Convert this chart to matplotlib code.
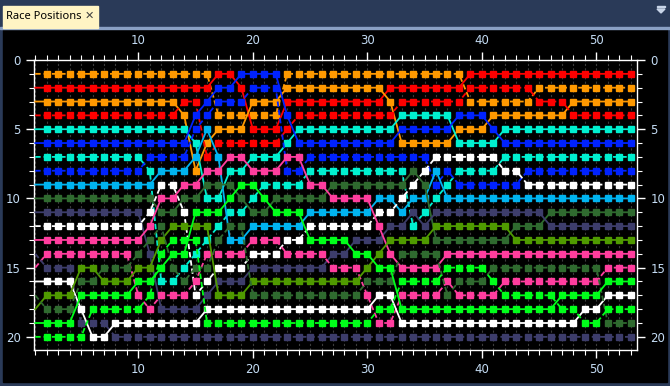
import matplotlib.pyplot as plt
from matplotlib.patches import Rectangle, Polygon
from matplotlib.ticker import MultipleLocator

# running order per lap (lap 1..53), one letter per driver, first letter = P1
laps = list(range(1, 54))
order = [
    "ABCDEFGHIJKLMONPRQST",  # 1
    "ABCDEFGHIJKLMNOPQRST",  # 2
    "ABCDEFGHIJKLMNOPQRST",  # 3
    "ABCDEFGHIJKLMNOPQRST",  # 4
    "ABCDEFGHIJKLMNQRSPOT",  # 5
    "ABCDEFGHIJKLMNQRSTOP",  # 6
    "ABCDEFGHIJKLMNRQSTOP",  # 7
    "ABCDEFGHIJKLMNRQSTPO",  # 8
    "ABCDEFGHIJKLMNRQSTPO",  # 9
    "ABCDEFGHIJKLMRQSNTPO",  # 10
    "ABCDEFHGIJLMRKQSTNPO",  # 11
    "ABCDEFHILMJRQTSGNKPO",  # 12
    "ABCDEFHILMJQTSRGNKPO",  # 13
    "ABDCEFHIMJLQTSGRNKPO",  # 14
    "ABDFHEICMJSQTGRNLKPO",  # 15
    "ABFHICDMJESQGNRLKPTO",  # 16
    "BFHACDIMJESGRNLKQPTO",  # 17
    "BFHACDMEJSGRINLKQPTO",  # 18
    "FBHACDMESJGRINLKQPTO",  # 19
    "FHCABDEMSGJINLKQRPTO",  # 20
    "FHCABDEMGSJINLKQRPTO",  # 21
    "FHCABDEMGJSINLKQRPTO",  # 22
    "ACBFDEMHGJSILNKQRPTO",  # 23
    "ACBDEFMHGJSILNKQRPTO",  # 24
    "ACBDEFHGMJILSNKQRPTO",  # 25
    "ACBDEFHGMJILSNKQRPTO",  # 26
    "ACBDEFHGJMILSKNQRPTO",  # 27
    "ACBDEFHGJMILSKNQRPTO",  # 28
    "ACBDEFHGJMILKSNQRPTO",  # 29
    "ACBDEFHGJMILKSQRNPTO",  # 30
    "ACBDEFHGJILMKQSRPTNO",  # 31
    "ABCDEFHGJILKQMSRPTNO",  # 32
    "ABDEFCHGJLIKQRMTNSPO",  # 33
    "ABDEFCHJLIKGQRMTNSPO",  # 34
    "ABDEFCHLJIGKQRMTNSPO",  # 35
    "ABDEFCLIHGKQJRMTNSPO",  # 36
    "ABDEFCLHGIKQJMTNRSPO",  # 37
    "ABDFCELGHIKQJMTRNSPO",  # 38
    "BDAFCELGHIKQJMTRNSPO",  # 39
    "BDAFCELGHIKQJMTRNSPO",  # 40
    "BDACFELGHIKQJMRTNSPO",  # 41
    "BDACEFGLHIKQJMRNTSPO",  # 42
    "BDACEFGLHIKJQMRNTSPO",  # 43
    "BDACEFGHLIKJQMRNTSPO",  # 44
    "BADCEFGHLIKJQMRNTSPO",  # 45
    "BADCEFGHLIJKQMRNTSPO",  # 46
    "BADCEFGHLIJKQMRNSTPO",  # 47
    "BACDEFGHLIJKQMRNSTPO",  # 48
    "BACDEFGHLIJKQMRNSPTO",  # 49
    "BACDEFGHLIJKQMRNSPTO",  # 50
    "BACDEFGHLIJKQMNSPTRO",  # 51
    "BACDEFGHLIJKQMNSPTRO",  # 52
    "BACDEFGHLIJKQMNSPTRO",  # 53
]

drivers = "ABCDEFGHIJKLMNOPQRST"
driver_colors = ["#ff9900", "#ff0000", "#ff9900", "#ff0000", "#00f0d0",
                 "#0022ff", "#00f0d0", "#0022ff", "#00b4f0", "#2f6a2f",
                 "#3d3d6b", "#ffffff", "#ff3d9e", "#ff3d9e", "#3d3d6b",
                 "#ffffff", "#4f9a00", "#2f6a2f", "#00ff1a", "#00ff1a"]
dashed = "ADGHLNORT"

W, H = 670, 386
fig = plt.figure(figsize=(W / 100, H / 100), dpi=100)
fig.patch.set_facecolor("#2a3a58")

# black panel and tab
fig.patches.append(Rectangle((3 / W, 4 / H), 664 / W, (382 - 29) / H,
                             transform=fig.transFigure, color="black", zorder=0))
fig.patches.append(Rectangle((0, (386 - 29) / H), 1, 2 / H,
                             transform=fig.transFigure, color="#8aa0c4", zorder=0))
fig.patches.append(Rectangle((3 / W, (386 - 28) / H), 95 / W, 22 / H,
                             transform=fig.transFigure, color="#fff4c4", zorder=1))
fig.text(6 / W, 1 - 16.5 / H, "Race Positions", fontsize=8, color="black",
         va="center", ha="left", family="Noto Sans", zorder=3)
fig.text(89 / W, 1 - 15.5 / H, "\u2715", fontsize=8, color="#404040",
         va="center", ha="center", family="DejaVu Sans", zorder=3)
fig.patches.append(Polygon([(657 / W, 1 - 9 / H), (665 / W, 1 - 9 / H), (661 / W, 1 - 13 / H)],
                           closed=True, transform=fig.transFigure, color="#c8d4e8"))
fig.patches.append(Rectangle((657 / W, 1 - 7 / H), 8 / W, 1.2 / H,
                             transform=fig.transFigure, color="#c8d4e8"))

ax = fig.add_axes([34 / W, 1 - 350 / H, (637 - 34) / W, (350 - 60) / H])
ax.set_zorder(10)
ax.set_facecolor("black")

for k, d in enumerate(drivers):
    pos = [o.index(d) + 1 for o in order]
    ls = (0, (3, 1.6)) if d in dashed else "-"
    ax.plot(laps, pos, color=driver_colors[k], linestyle=ls, linewidth=1.3,
            marker="s", markersize=5, markevery=slice(1, None), zorder=3)

ax.set_xlim(0.89, 53.55)
ax.set_ylim(20.95, 0)
ax.xaxis.set_major_locator(MultipleLocator(10))
ax.xaxis.set_minor_locator(MultipleLocator(1))
ax.yaxis.set_major_locator(MultipleLocator(5))
ax.yaxis.set_minor_locator(MultipleLocator(1))
ax.grid(which="both", axis="x", color="#3c3c3c", linestyle=(0, (2, 2)), linewidth=0.8, zorder=1)
ax.set_axisbelow(True)

ax.tick_params(which="both", top=True, right=True, labeltop=True, labelright=True,
               direction="out", colors="white", labelcolor="#c4dcf4", labelsize=8.5)
ax.tick_params(which="major", length=6, width=1)
ax.tick_params(which="minor", length=3.5, width=0.8)
for s in ax.spines.values():
    s.set_color("white")
    s.set_linewidth(1)

fig.savefig("out.png", dpi=100, facecolor=fig.get_facecolor())
